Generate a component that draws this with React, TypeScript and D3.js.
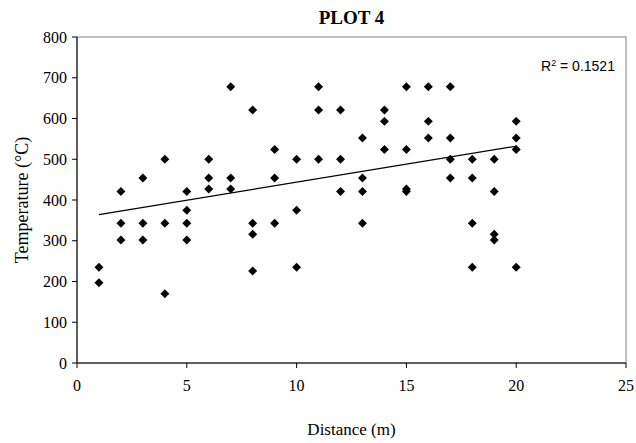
import React from "react";
import * as d3 from "d3";

const distances = [
  1, 1, 2, 2, 2, 3, 3, 3, 4, 4, 4, 5, 5, 5, 5, 6, 6, 6, 7, 7, 7, 8, 8, 8, 8,
  9, 9, 9, 10, 10, 10, 11, 11, 11, 12, 12, 12, 13, 13, 13, 13, 14, 14, 14,
  15, 15, 15, 15, 16, 16, 16, 17, 17, 17, 17, 18, 18, 18, 18, 19, 19, 19, 19,
  20, 20, 20, 20,
];
const temperatures = [
  235, 197, 421, 343, 302, 454, 343, 302, 500, 343, 170, 421, 375, 343, 302,
  500, 454, 427, 678, 454, 427, 621, 343, 316, 226, 524, 454, 343, 500, 375,
  235, 678, 621, 500, 621, 500, 421, 552, 454, 421, 343, 621, 593, 524, 678,
  524, 427, 421, 678, 593, 552, 678, 552, 500, 454, 500, 454, 343, 235, 500,
  421, 316, 302, 593, 552, 524, 235,
];
const trendX = [1, 20];
const trendY = [364, 532];
const xTicks = [0, 5, 10, 15, 20, 25];
const yTicks = [0, 100, 200, 300, 400, 500, 600, 700, 800];
const title = "PLOT 4";
const xTitle = "Distance (m)";
const yTitle = "Temperature (°C)";
const rSquared = "0.1521";

const W = 636;
const H = 443;
const M = { left: 77, right: 626, top: 37, bottom: 363 };
const serif = "'Liberation Serif', 'Times New Roman', serif";
const sans = "'Liberation Sans', Arial, sans-serif";

export default function App() {
  const x = d3.scaleLinear().domain([0, 25]).range([M.left, M.right]);
  const y = d3.scaleLinear().domain([0, 800]).range([M.bottom, M.top]);
  const diamond = d3.symbol().type(d3.symbolSquare).size(40)() as string;
  const line = d3
    .line<number>()
    .x((d) => x(trendX[d]))
    .y((d) => y(trendY[d]));

  return (
    <svg
      width={W}
      height={H}
      style={{ position: "absolute", left: 0, top: 0, background: "#fff" }}
    >
      <rect x={0} y={0} width={W} height={H} fill="#fff" />
      <text
        x={(M.left + M.right) / 2}
        y={24}
        textAnchor="middle"
        fontFamily={serif}
        fontWeight="bold"
        fontSize={19}
      >
        {title}
      </text>
      <rect
        x={M.left}
        y={M.top}
        width={M.right - M.left}
        height={M.bottom - M.top}
        fill="none"
        stroke="#808080"
        strokeWidth={1}
      />
      <line x1={M.left} x2={M.left} y1={M.top} y2={M.bottom} stroke="#000" />
      <line x1={M.left} x2={M.right} y1={M.bottom} y2={M.bottom} stroke="#000" />
      {yTicks.map((t) => (
        <g key={"y" + t}>
          <line x1={M.left - 5} x2={M.left} y1={y(t)} y2={y(t)} stroke="#000" />
          <text
            x={M.left - 10}
            y={y(t)}
            dy="0.35em"
            textAnchor="end"
            fontFamily={serif}
            fontSize={16}
          >
            {t}
          </text>
        </g>
      ))}
      {xTicks.map((t) => (
        <g key={"x" + t}>
          <line x1={x(t)} x2={x(t)} y1={M.bottom} y2={M.bottom + 5} stroke="#000" />
          <text
            x={x(t)}
            y={M.bottom + 28}
            textAnchor="middle"
            fontFamily={serif}
            fontSize={16}
          >
            {t}
          </text>
        </g>
      ))}
      <text
        x={(M.left + M.right) / 2}
        y={435}
        textAnchor="middle"
        fontFamily={serif}
        fontSize={17}
      >
        {xTitle}
      </text>
      <text
        transform={`translate(28,${(M.top + M.bottom) / 2}) rotate(-90)`}
        textAnchor="middle"
        fontFamily={serif}
        fontSize={18}
      >
        {yTitle}
      </text>
      {distances.map((d, i) => (
        <path
          key={"p" + i}
          d={diamond}
          transform={`translate(${x(d)},${y(temperatures[i])}) rotate(45)`}
          fill="#000"
        />
      ))}
      <path d={line([0, 1]) as string} fill="none" stroke="#000" strokeWidth={1.2} />
      <text x={541} y={71} fontFamily={sans} fontSize={14}>
        R<tspan dy={-5} fontSize={9}>2</tspan>
        <tspan dy={5}> = {rSquared}</tspan>
      </text>
    </svg>
  );
}
